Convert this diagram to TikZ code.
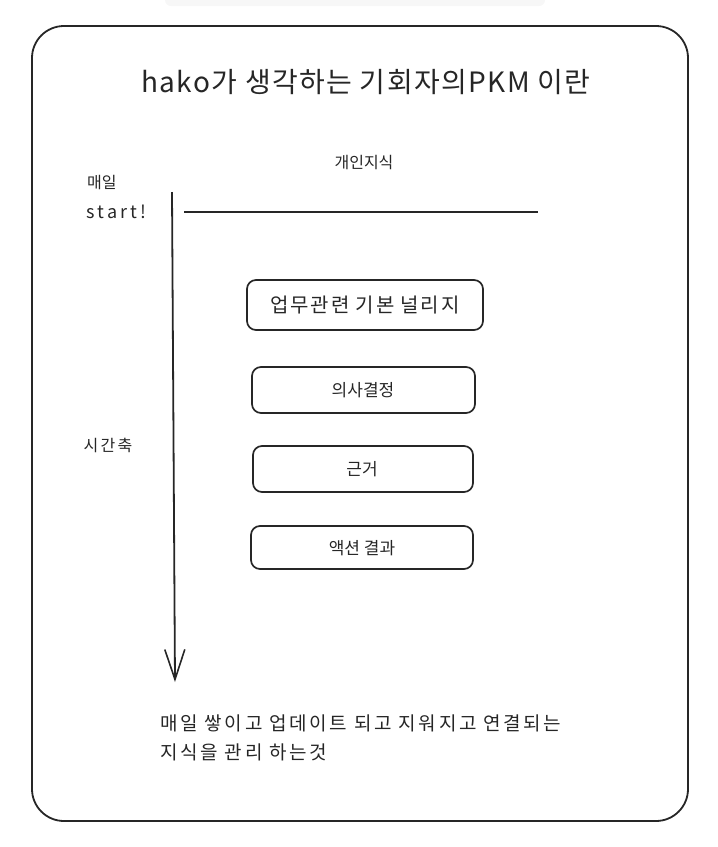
\documentclass[tikz,border=0pt]{standalone}
\usepackage{fontspec}
\setmainfont{Noto Sans CJK KR}
\newfontfamily\krA[LetterSpace=5]{Noto Sans CJK KR}
\newfontfamily\krB[LetterSpace=9]{Noto Sans CJK KR}
\newfontfamily\krC[LetterSpace=14]{Noto Sans CJK KR}
\newfontfamily\krD[LetterSpace=18]{Noto Sans CJK KR}
\usetikzlibrary{arrows.meta}
\begin{document}
\begin{tikzpicture}[x=1pt,y=-1pt,
  frame/.style={draw=black!85,line width=1.8pt,rounded corners=32pt},
  item/.style={draw=black!85,line width=1.7pt,rounded corners=9pt},
  lbl/.style={inner sep=0pt,text=black!85},
  axis/.style={draw=black!85,line width=1.8pt}]
\useasboundingbox (0,0) rectangle (718,847);
\fill[black!3,rounded corners=6pt] (165,-6) rectangle (545,6);
\draw[frame] (32,26) rectangle (688,821);
\node[lbl,font=\krA\fontsize{28}{32}\selectfont] (title) at (366,82) {hako가 생각하는 기회자의PKM 이란};
\node[lbl,font=\fontsize{16}{19}\selectfont] (personal) at (364,163) {개인지식};
\node[lbl,font=\fontsize{16}{19}\selectfont,anchor=west] (daily) at (87,183) {매일};
\node[lbl,font=\krD\fontsize{18}{19}\selectfont,anchor=west] (start) at (86,212) {start!};
\node[lbl,font=\krC\fontsize{16}{19}\selectfont] (timeax) at (108,445) {시간축};
\draw[item] (247,280) rectangle (483,330);
\node[lbl,font=\krB\fontsize{20}{24}\selectfont] (b1) at (365,305) {업무관련 기본 널리지};
\draw[item] (252,367) rectangle (475,413);
\node[lbl,font=\fontsize{17}{22}\selectfont] (b2) at (363,390) {의사결정};
\draw[item] (253,446) rectangle (473,492);
\node[lbl,font=\fontsize{17}{22}\selectfont] (b3) at (362,469) {근거};
\draw[item] (251,526) rectangle (473,569);
\node[lbl,font=\fontsize{17}{22}\selectfont] (b4) at (362,548) {액션 결과};
\coordinate (hl) at (184,212);
\coordinate (hr) at (538,212);
\draw[axis] (hl) -- (hr);
\coordinate (ts) at (172,192);
\coordinate (te) at (175,682);
\draw[axis,-{Straight Barb[length=30pt,width=20pt,line width=1.6pt]}] (ts) -- (te);
\node[lbl,font=\krC\fontsize{19}{29}\selectfont,anchor=north west,align=left] (note) at (160,715) {매일 쌓이고 업데이트 되고 지워지고 연결되는\\지식을 관리 하는것};
\end{tikzpicture}
\end{document}
